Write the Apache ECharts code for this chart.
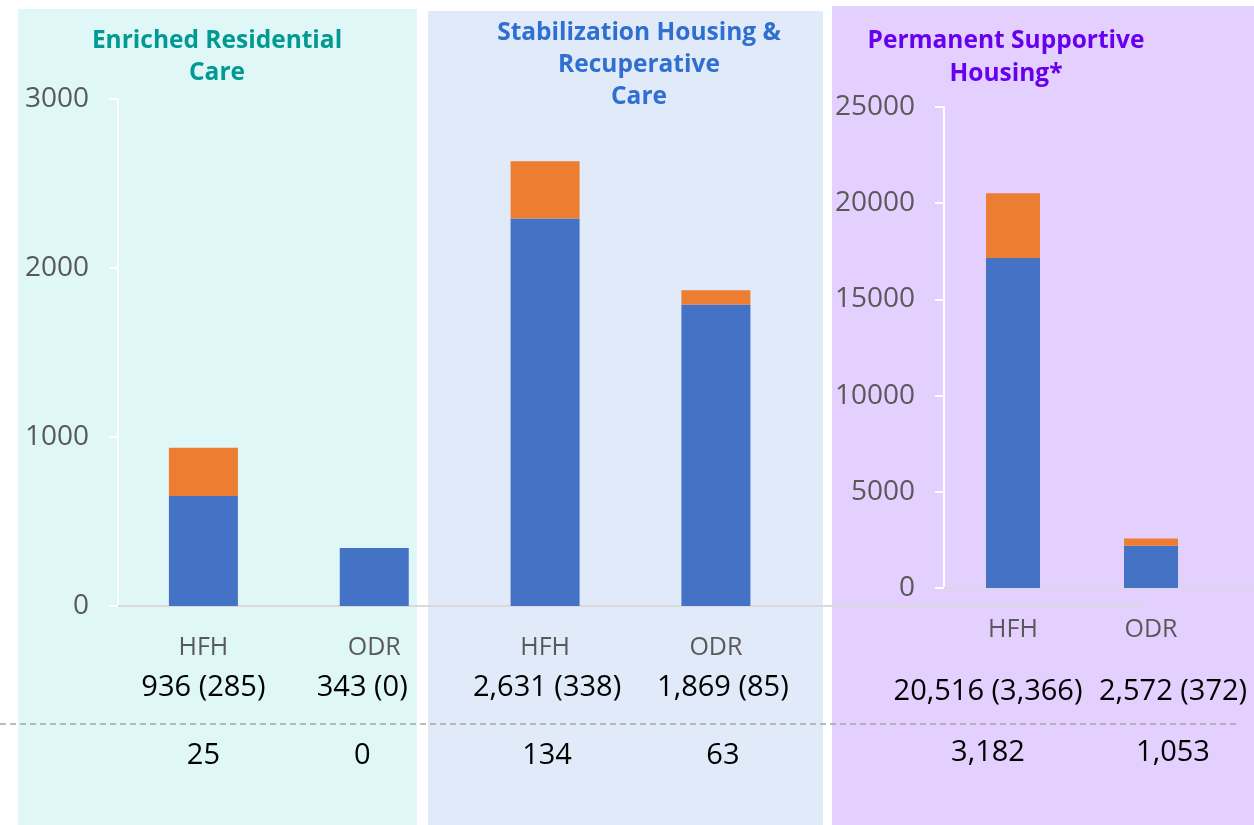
<!DOCTYPE html>
<html>
<head>
<meta charset="utf-8">
<title>HFH / ODR placements</title>
<script src="https://cdn.jsdelivr.net/npm/echarts@6/dist/echarts.min.js"></script>
<style>
  html, body { margin: 0; padding: 0; background: #fff; }
  #chart { width: 1254px; height: 825px; }
</style>
</head>
<body>
<div id="chart"></div>
<script>
// left chart (ERC + SH/RC share one axis), right chart (PSH)
const leftCats = ['HFH', 'ODR', 'HFH', 'ODR', '', ''];
const leftTotal = [936, 343, 2631, 1869, null, null];
const leftOrange = [285, 0, 338, 85, null, null];
const leftExtra = [25, 0, 134, 63, null, null];

const rightCats = ['HFH', 'ODR', ''];
const rightTotal = [20516, 2572, null];
const rightOrange = [3366, 372, null];
const rightExtra = [3182, 1053, null];

const leftTicks = { min: 0, max: 3000, interval: 1000 };
const rightTicks = { min: 0, max: 25000, interval: 5000 };

// horizontal nudges of the number rows (px, + = right)
const leftShift = [0, -12, 2, 7, 0, 0];
const rightShift = [-25, 22, 0];

const fmt = n => n.toLocaleString('en-US');
const blueOf = (tot, org) => tot.map((t, i) => t == null ? null : t - org[i]);

const FONT = '"Open Sans", "Noto Sans", sans-serif';
const BLUE = '#4472C4';
const ORANGE = '#ED7D31';

function buildRich(shifts, lh) {
  const rich = {
    c: { fontSize: 25, color: '#595959', lineHeight: lh[0], fontFamily: FONT }
  };
  shifts.forEach((s, i) => {
    const pad = s < 0 ? [0, -2 * s, 0, 0] : [0, 0, 0, 2 * s];
    rich['v' + i] = { fontSize: 29, color: '#000', lineHeight: lh[1], padding: pad, fontFamily: FONT };
    rich['e' + i] = { fontSize: 29, color: '#000', lineHeight: lh[2], padding: pad, fontFamily: FONT };
  });
  return rich;
}

function labelFormatter(cats, tot, org, extra) {
  return (v, i) => {
    if (tot[i] == null) return '';
    return '{c|' + cats[i] + '}\n{v' + i + '|' + fmt(tot[i]) + ' (' + fmt(org[i]) + ')}\n{e' + i + '|' + fmt(extra[i]) + '}';
  };
}

function valueAxis(idx, ticks) {
  return {
    type: 'value', gridIndex: idx, min: ticks.min, max: ticks.max, interval: ticks.interval,
    axisLine: { show: true, lineStyle: { color: '#FFFFFF', width: 2 } },
    axisTick: { show: true, length: 9, lineStyle: { color: '#FFFFFF', width: 2 } },
    splitLine: { show: false },
    axisLabel: { color: '#595959', fontSize: 28, margin: 29, fontFamily: FONT, formatter: v => String(v) }
  };
}

const chart = echarts.init(document.getElementById('chart'));

chart.setOption({
  animation: false,
  textStyle: { fontFamily: FONT },
  graphic: {
    elements: [
      { type: 'rect', z: -100, shape: { x: 18, y: 9, width: 399, height: 820 }, style: { fill: '#E0F7F8' } },
      { type: 'rect', z: -100, shape: { x: 428, y: 11, width: 395, height: 820 }, style: { fill: '#E0EAF8' } },
      { type: 'rect', z: -100, shape: { x: 832, y: 6, width: 430, height: 820 }, style: { fill: '#E3D0FF' } },
      { type: 'line', z: 100, shape: { x1: 0, y1: 724, x2: 1240, y2: 724 },
        style: { stroke: '#A6A6A6', lineWidth: 1.5, lineDash: [6, 4] } }
    ]
  },
  title: [
    { text: 'Enriched Residential\nCare', left: 212, top: 20, textAlign: 'center',
      textStyle: { color: '#009A93', fontSize: 24.5, fontWeight: 'bold', lineHeight: 32, fontFamily: FONT } },
    { text: 'Stabilization Housing &\nRecuperative\nCare', left: 634, top: 12, textAlign: 'center',
      textStyle: { color: '#2F6FD1', fontSize: 24.5, fontWeight: 'bold', lineHeight: 32, fontFamily: FONT } },
    { text: 'Permanent Supportive\nHousing*', left: 1001, top: 20, textAlign: 'center',
      textStyle: { color: '#6600EE', fontSize: 24.5, fontWeight: 'bold', lineHeight: 33, fontFamily: FONT } }
  ],
  grid: [
    { left: 118, top: 99, width: 1025, height: 507, outerBoundsMode: 'none' },
    { left: 944, top: 107, width: 414, height: 481, outerBoundsMode: 'none' }
  ],
  xAxis: [
    {
      type: 'category', gridIndex: 0, data: leftCats,
      axisLine: { lineStyle: { color: '#D9D9D9', width: 2 } },
      axisTick: { show: false },
      axisLabel: {
        interval: 0, margin: 22,
        formatter: labelFormatter(leftCats, leftTotal, leftOrange, leftExtra),
        rich: buildRich(leftShift, [40, 40, 96])
      }
    },
    {
      type: 'category', gridIndex: 1, data: rightCats,
      axisLine: { lineStyle: { color: '#D9D9D9', width: 2 } },
      axisTick: { show: false },
      axisLabel: {
        interval: 0, margin: 22,
        formatter: labelFormatter(rightCats, rightTotal, rightOrange, rightExtra),
        rich: buildRich(rightShift, [40, 84, 38])
      }
    }
  ],
  yAxis: [valueAxis(0, leftTicks), valueAxis(1, rightTicks)],
  series: [
    { type: 'bar', name: 'blue-left', xAxisIndex: 0, yAxisIndex: 0, stack: 'L', barWidth: 69,
      itemStyle: { color: BLUE }, data: blueOf(leftTotal, leftOrange) },
    { type: 'bar', name: 'orange-left', xAxisIndex: 0, yAxisIndex: 0, stack: 'L', barWidth: 69,
      itemStyle: { color: ORANGE }, data: leftOrange },
    { type: 'bar', name: 'blue-right', xAxisIndex: 1, yAxisIndex: 1, stack: 'R', barWidth: 54,
      itemStyle: { color: BLUE }, data: blueOf(rightTotal, rightOrange) },
    { type: 'bar', name: 'orange-right', xAxisIndex: 1, yAxisIndex: 1, stack: 'R', barWidth: 54,
      itemStyle: { color: ORANGE }, data: rightOrange }
  ]
});
</script>
</body>
</html>
